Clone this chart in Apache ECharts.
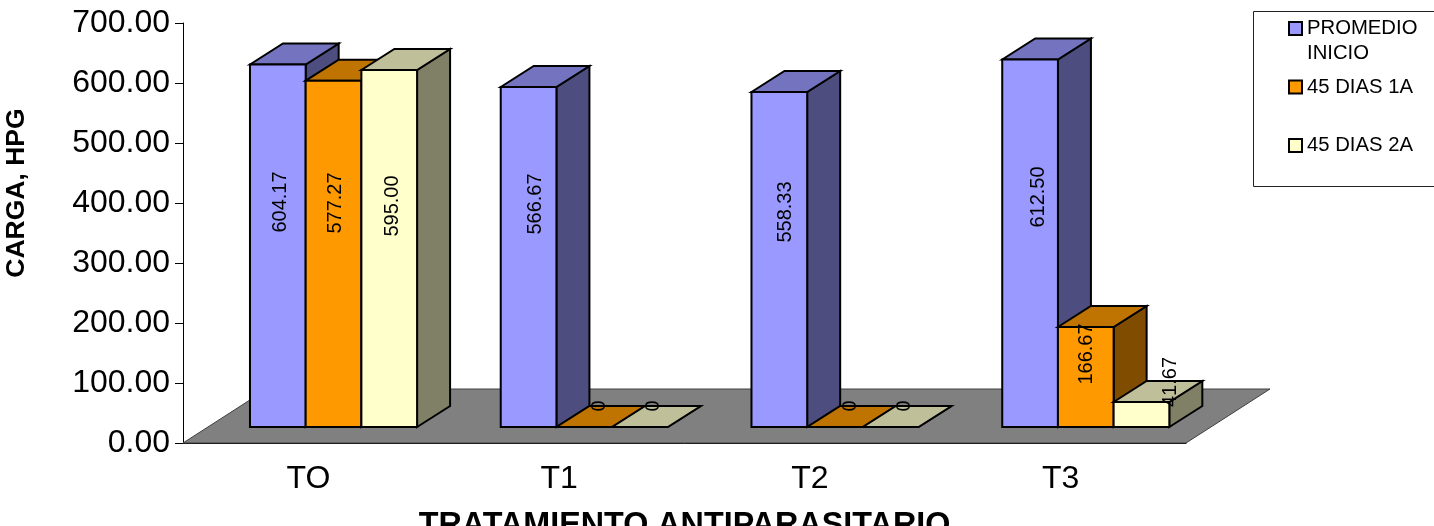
<!DOCTYPE html>
<html>
<head>
<meta charset="utf-8">
<title>Carga parasitaria por tratamiento</title>
<style>html,body{margin:0;padding:0;background:#fff;overflow:hidden}#chart{width:1434px;height:526px}</style>
<script src="https://cdn.jsdelivr.net/npm/echarts@6/dist/echarts.min.js"></script>
</head>
<body>
<div id="chart"></div>
<script>
// Values
const treatments = ['TO', 'T1', 'T2', 'T3'];
const promedioInicio = [604.17, 566.67, 558.33, 612.50];
const dias45a1 = [577.27, 0, 0, 166.67];
const dias45a2 = [595.00, 0, 0, 41.67];
const yTicks = [0, 100, 200, 300, 400, 500, 600, 700];

// Pseudo-3D look: extrusion of each column and lift of the floor line
const FONT = '"Liberation Sans", Arial, sans-serif';
const DEPTH_X = 33, DEPTH_Y = 21, FLOOR_LIFT = 16, FLOOR_DEPTH_X = 84, FLOOR_DEPTH_Y = 54;
const GROUP_SHIFT = 58.4, COLUMN_WIDTH = 55.7;

// Where each value label sits: [shift from column centre, height above column base]
const labelPlacement = [
  [[3, 225], [6.5, 223], [6.5, 215], [8.5, 230]],
  [[1.5, 224], [15, 21], [15, 21], [1, 73]],
  [[3, 221], [14, 21], [14, 21], [29, 45]]
];

const palettes = [
  { front: '#9999FF', top: '#7373BF', side: '#4D4D80' },
  { front: '#FF9900', top: '#BF7300', side: '#804D00' },
  { front: '#FFFFCC', top: '#BFBF99', side: '#808066' }
];

function valueText(v) { return v === 0 ? '0' : v.toFixed(2); }

function columnRenderer(seriesIndex) {
  return function (params, api) {
    const cat = api.value(0), val = api.value(1);
    const centre = api.coord([cat, 0])[0];
    const base = api.coord([cat, 0])[1] - FLOOR_LIFT;
    const top = api.coord([cat, val])[1] - FLOOR_LIFT;
    const x0 = centre - GROUP_SHIFT + seriesIndex * COLUMN_WIDTH;
    const x1 = x0 + COLUMN_WIDTH;
    const pal = palettes[seriesIndex];
    const edge = { stroke: '#000', lineWidth: 2, lineJoin: 'miter' };
    const face = (pts, fill) => ({
      type: 'polygon', shape: { points: pts }, style: Object.assign({ fill }, edge)
    });
    const place = labelPlacement[seriesIndex][cat];
    return {
      type: 'group',
      children: [
        face([[x1, base], [x1 + DEPTH_X, base - DEPTH_Y], [x1 + DEPTH_X, top - DEPTH_Y], [x1, top]], pal.side),
        face([[x0, top], [x0 + DEPTH_X, top - DEPTH_Y], [x1 + DEPTH_X, top - DEPTH_Y], [x1, top]], pal.top),
        face([[x0, base], [x1, base], [x1, top], [x0, top]], pal.front),
        {
          type: 'text',
          x: (x0 + x1) / 2 + place[0],
          y: base - place[1],
          rotation: Math.PI / 2,
          z2: 100,
          style: { text: valueText(val), x: 0, y: 0, align: 'center', verticalAlign: 'middle', font: '20px ' + FONT, fill: '#000' }
        }
      ]
    };
  };
}

// Grey floor under the columns, derived from the plot rectangle
function floorRenderer(params, api) {
  const cs = params.coordSys;
  const y = cs.y + cs.height;
  return {
    type: 'polygon',
    shape: { points: [
      [cs.x, y],
      [cs.x + FLOOR_DEPTH_X, y - FLOOR_DEPTH_Y],
      [cs.x + cs.width + FLOOR_DEPTH_X, y - FLOOR_DEPTH_Y],
      [cs.x + cs.width, y]
    ] },
    style: { fill: '#808080', stroke: '#404040', lineWidth: 1 }
  };
}

function columnSeries(name, values, idx) {
  return {
    name,
    type: 'custom',
    coordinateSystem: 'cartesian2d',
    renderItem: columnRenderer(idx),
    silent: true,
    clip: false,
    z: 3,
    itemStyle: { color: palettes[idx].front, borderColor: '#000', borderWidth: 2 },
    encode: { x: 0, y: 1 },
    data: values.map((v, i) => [i, v])
  };
}

const legendLines = {
  'PROMEDIO INICIO': '\nPROMEDIO\nINICIO',
  '45 DIAS 1A': '\n45 DIAS 1A\n ',
  '45 DIAS 2A': '\n45 DIAS 2A\n '
};

const chart = echarts.init(document.getElementById('chart'), null, { renderer: 'canvas' });
chart.setOption({
  animation: false,
  backgroundColor: '#fff',
  textStyle: { fontFamily: FONT },
  grid: { left: 183, top: 23, width: 1003, height: 420, outerBoundsMode: 'none' },
  graphic: [{
    type: 'rect',
    silent: true,
    shape: { x: 1253.5, y: 11.5, width: 220, height: 175 },
    style: { fill: '#fff', stroke: '#222', lineWidth: 1 }
  }],
  legend: {
    orient: 'vertical',
    left: 1288,
    top: -9,
    padding: 0,
    itemGap: -16.5,
    itemWidth: 13,
    itemHeight: 13,
    icon: 'rect',
    selectedMode: false,
    z: 10,
    textStyle: { fontSize: 20.3, fontFamily: FONT, color: '#000', lineHeight: 25, padding: [0, 0, 0, 0] },
    formatter: name => legendLines[name],
    data: ['PROMEDIO INICIO', '45 DIAS 1A', '45 DIAS 2A']
  },
  xAxis: {
    type: 'category',
    data: treatments,
    axisLine: { lineStyle: { color: '#000', width: 1 } },
    axisTick: { show: false },
    axisLabel: { fontSize: 32, fontFamily: FONT, color: '#000', margin: 20 },
    name: 'TRATAMIENTO ANTIPARASITARIO',
    nameLocation: 'middle',
    nameGap: 67,
    nameTextStyle: { fontSize: 32.3, fontWeight: 'bold', fontFamily: FONT, color: '#000' }
  },
  yAxis: {
    type: 'value',
    min: yTicks[0],
    max: yTicks[yTicks.length - 1],
    interval: 100,
    splitLine: { show: false },
    axisLine: { show: true, lineStyle: { color: '#000', width: 1 } },
    axisTick: { show: true, length: 8, lineStyle: { color: '#000', width: 1 } },
    axisLabel: { fontSize: 32, fontFamily: FONT, color: '#000', margin: 13, formatter: v => v.toFixed(2) },
    name: 'CARGA, HPG',
    nameLocation: 'middle',
    nameGap: 153,
    nameRotate: 90,
    nameTextStyle: { fontSize: 26.5, fontWeight: 'bold', fontFamily: FONT, color: '#000', padding: [0, 0, 0, 80] }
  },
  series: [
    {
      type: 'custom',
      coordinateSystem: 'cartesian2d',
      renderItem: floorRenderer,
      silent: true,
      clip: false,
      z: 1,
      data: [[0, 0]]
    },
    columnSeries('PROMEDIO INICIO', promedioInicio, 0),
    columnSeries('45 DIAS 1A', dias45a1, 1),
    columnSeries('45 DIAS 2A', dias45a2, 2)
  ]
});
</script>
</body>
</html>
